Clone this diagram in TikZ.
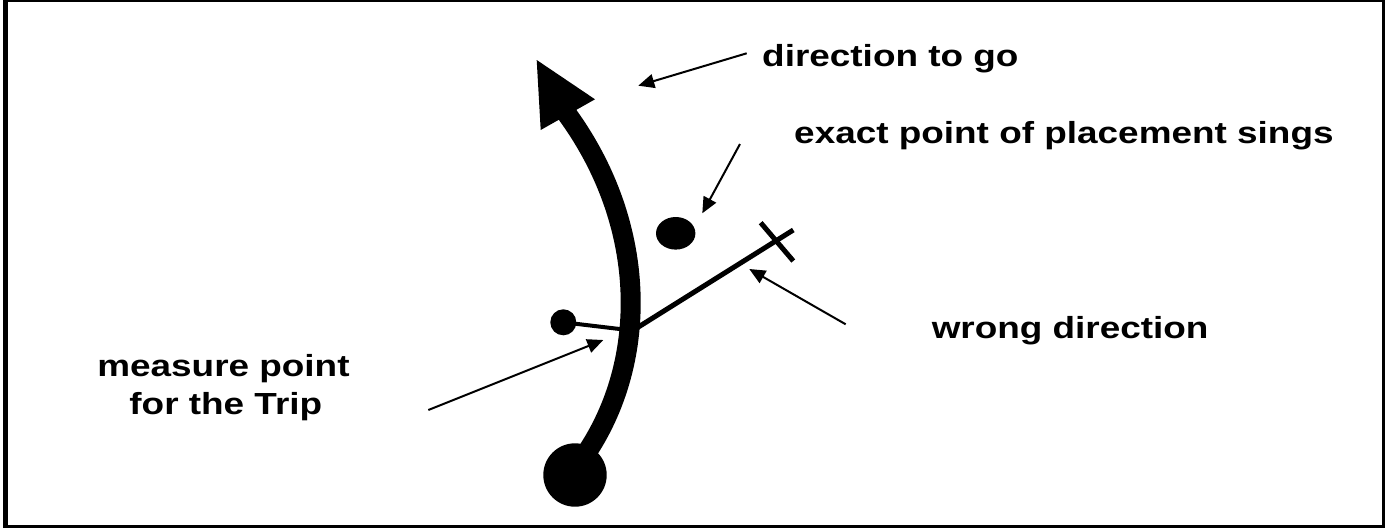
\documentclass[tikz,border=0pt]{standalone}
\usepackage{fontspec}
\setmainfont{Liberation Sans}
\usetikzlibrary{arrows.meta}
\begin{document}
\begin{tikzpicture}[x=1pt,y=-1pt,
  lbl/.style={font=\fontsize{30.5}{36}\selectfont\bfseries, inner sep=0pt, xscale=1.21},
  pointer/.style={line width=2pt, -{Triangle[length=16pt,width=14pt]}},
  dotnode/.style={circle, fill=black, inner sep=0pt}]
\useasboundingbox (0,0) rectangle (1385,528);
% frame
\draw[line width=2.5pt] (5,1) rectangle (1383.5,526.5);
\draw[line width=5pt] (5.5,0) -- (5.5,528);

% labels
\node[lbl, anchor=base west] (dir) at (762,66.7) {direction to go};
\node[lbl, anchor=base west] (exact) at (794,143.5) {exact point of placement sings};
\node[lbl, anchor=base west] (wrong) at (931.5,338.5) {wrong direction};
\node[lbl, anchor=base] (meas1) at (223.5,376) {measure point};
\node[lbl, anchor=base] (meas2) at (225.8,414) {for the Trip};

% key points
\node[dotnode, minimum size=63.4pt] (start) at (575,475) {};
\node[dotnode, minimum size=26pt] (mdot) at (563.3,322.3) {};
\fill (675.7,233.3) ellipse [x radius=19.7, y radius=16.3];
\coordinate (shaftA) at (585,455);
\coordinate (shaftB) at (564,110);
\coordinate (cross) at (776.7,241.7);
\coordinate (lineEnd) at (793.3,230);
\coordinate (lineStart) at (632,331);
\coordinate (shortEnd) at (628,330);

% wrong-direction line with cross
\draw[line width=4pt] (mdot.center) -- (shortEnd);
\draw[line width=5pt] (lineStart) -- (lineEnd);
\draw[line width=5pt] (760.7,222.7) -- (793.3,261);

% thick route arrow
\draw[line width=20pt] (shaftA) .. controls (650,360) and (648,222) .. (shaftB);
\fill (536.7,60) -- (540.7,130) -- (595,99.3) -- cycle;

% pointers
\coordinate (p1s) at (746.7,53.3); \coordinate (p1e) at (638.3,85.7);
\coordinate (p2s) at (740,144);    \coordinate (p2e) at (702.3,213.3);
\coordinate (p3s) at (845.7,324.3); \coordinate (p3e) at (749.3,269);
\coordinate (p4s) at (428.3,410);  \coordinate (p4e) at (603.3,340);
\draw[pointer] (p1s) -- (p1e);
\draw[pointer] (p2s) -- (p2e);
\draw[pointer] (p3s) -- (p3e);
\draw[pointer] (p4s) -- (p4e);
\end{tikzpicture}
\end{document}
